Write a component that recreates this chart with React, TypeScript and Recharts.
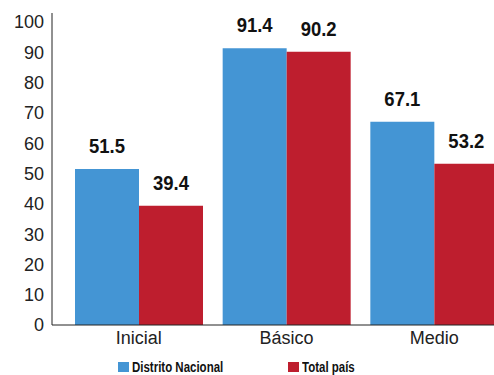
import { Bar, BarChart, LabelList, Legend, XAxis, YAxis } from 'recharts';

const niveles = ['Inicial', 'Básico', 'Medio'];
const distritoNacional = [51.5, 91.4, 67.1];
const totalPais = [39.4, 90.2, 53.2];
const ticksY = [0, 10, 20, 30, 40, 50, 60, 70, 80, 90, 100];

const AZUL = '#4495d4';
const ROJO = '#be1e2e';

const datos = niveles.map((n, i) => ({
  nivel: n,
  'Distrito Nacional': distritoNacional[i],
  'Total país': totalPais[i],
}));

const fuente = '"Liberation Sans", Arial, sans-serif';

// etiqueta en negrita "condensada" (escala horizontal)
const Etiqueta = (props: any) => {
  const { x, y, width, value } = props;
  return (
    <text
      transform={`translate(${x + width / 2},${y - 16}) scale(0.88,1)`}
      textAnchor="middle"
      fontFamily={fuente}
      fontWeight="bold"
      fontSize={21}
      fill="#111"
    >
      {value}
    </text>
  );
};

function Leyenda() {
  const items = [
    { nombre: 'Distrito Nacional', color: AZUL, x: 118 },
    { nombre: 'Total país', color: ROJO, x: 288 },
  ];
  return (
    <div style={{ position: 'relative', height: 20 }}>
      {items.map((it) => (
        <div
          key={it.nombre}
          style={{
            position: 'absolute',
            left: it.x,
            top: 4,
            height: 16,
            display: 'flex',
            alignItems: 'center',
            whiteSpace: 'nowrap',
          }}
        >
          <span
            style={{
              display: 'inline-block',
              width: 11,
              height: 10,
              background: it.color,
              marginRight: 3,
            }}
          />
          <span
            style={{
              display: 'inline-block',
              transform: 'scaleX(0.82)',
              transformOrigin: 'left center',
              fontFamily: fuente,
              fontWeight: 'bold',
              fontSize: 14,
              lineHeight: '16px',
              color: '#111',
            }}
          >
            {it.nombre}
          </span>
        </div>
      ))}
    </div>
  );
}

export default function App() {
  return (
    <div
      style={{
        position: 'absolute',
        top: 0,
        left: 0,
        width: 494,
        height: 375,
        overflow: 'hidden',
        background: '#fff',
      }}
    >
      <BarChart
        width={508}
        height={375}
        data={datos}
        margin={{ top: 13, right: 0, bottom: 0, left: 0 }}
        barGap={0}
        barSize={64}
      >
        <XAxis
          dataKey="nivel"
          padding={{ left: 13, right: 0 }}
          axisLine={{ stroke: '#222' }}
          tickLine={false}
          tickSize={6}
          tickMargin={0}
          height={30}
          tick={{ fill: '#222', fontSize: 18, fontFamily: fuente }}
        />
        <YAxis
          domain={[0, 103]}
          ticks={ticksY}
          interval={0}
          width={52}
          axisLine={{ stroke: '#222' }}
          tickLine={false}
          tick={{ fill: '#222', fontSize: 18, fontFamily: fuente }}
        />
        <Legend verticalAlign="bottom" height={20} content={() => <Leyenda />} />
        <Bar dataKey="Distrito Nacional" fill={AZUL} isAnimationActive={false}>
          <LabelList dataKey="Distrito Nacional" content={Etiqueta} />
        </Bar>
        <Bar dataKey="Total país" fill={ROJO} isAnimationActive={false}>
          <LabelList dataKey="Total país" content={Etiqueta} />
        </Bar>
      </BarChart>
    </div>
  );
}
